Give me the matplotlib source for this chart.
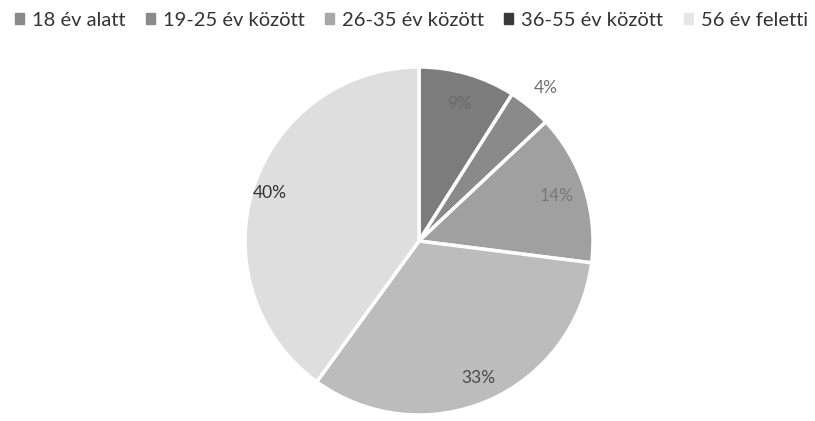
import numpy as np
import matplotlib.pyplot as plt

plt.rcParams['font.family'] = ['Lato', 'DejaVu Sans']

# korcsoportok es aranyok
categories = ['18 év alatt', '19-25 év között', '26-35 év között', '36-55 év között', '56 év feletti']
values = [9, 4, 14, 33, 40]
labels = ['9%', '4%', '14%', '33%', '40%']

colors = ['#7c7c7c', '#8a8a8a', '#a0a0a0', '#bcbcbc', '#dedede']
legend_colors = ['#8a8a8a', '#8a8a8a', '#a8a8a8', '#3a3a3a', '#e6e6e6']
label_colors = ['#6a6a6a', '#707070', '#787878', '#4a4a4a', '#333333']
label_r = [0.82, 1.14, 0.83, 0.86, 0.90]

fig = plt.figure(figsize=(8.15, 4.21), dpi=100)
ax = fig.add_axes([245 / 815, 6 / 421, 348 / 815, 348 / 421])

wedges, _ = ax.pie(values, colors=colors, startangle=90, counterclock=False,
                   wedgeprops=dict(edgecolor='white', linewidth=2.5))
ax.set_xlim(-1, 1)
ax.set_ylim(-1, 1)
ax.set_aspect('equal')

for w, lab, r, c in zip(wedges, labels, label_r, label_colors):
    ang = np.deg2rad((w.theta1 + w.theta2) / 2)
    ax.text(r * np.cos(ang), r * np.sin(ang), lab, ha='center', va='center',
            fontsize=12.5, color=c)

handles = [plt.Rectangle((0, 0), 1, 1, color=c) for c in legend_colors]
fig.legend(handles, categories, loc='upper center', bbox_to_anchor=(0.505, 1.015),
           ncol=5, frameon=False, fontsize=14.5, handlelength=0.45, handleheight=0.45,
           handletextpad=0.4, columnspacing=1.0, labelcolor='#333333')

fig.savefig('out.png', dpi=100)
